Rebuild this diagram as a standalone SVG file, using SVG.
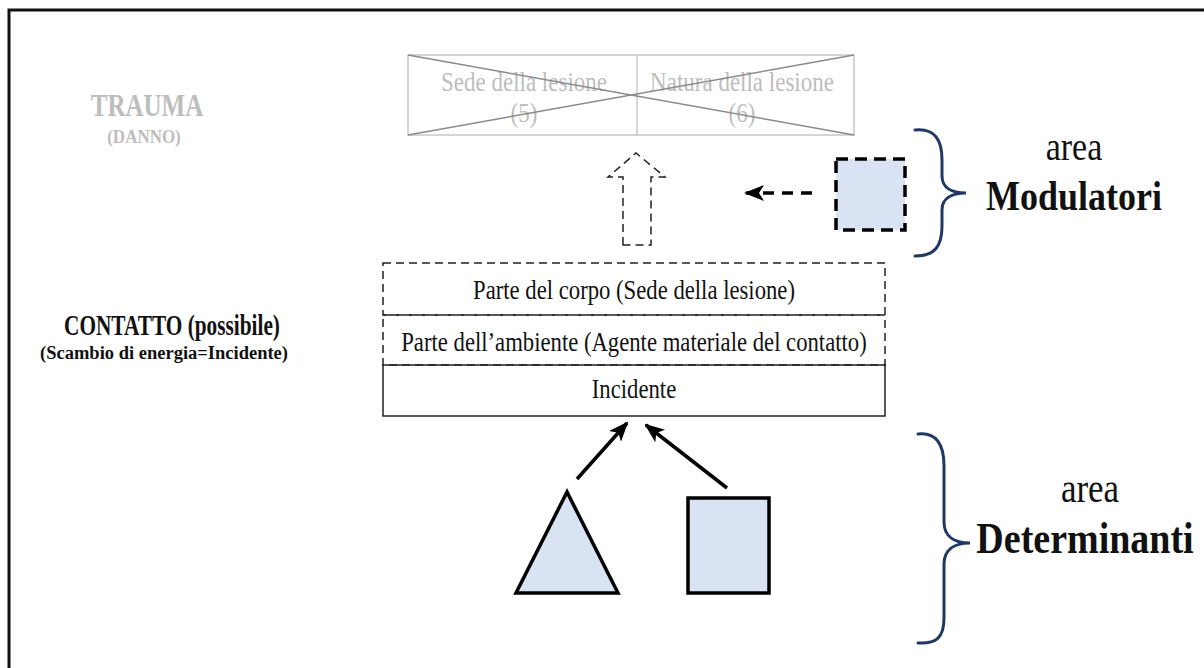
<svg xmlns="http://www.w3.org/2000/svg" width="1204" height="668" viewBox="0 0 1204 668">
<style>
.serif{font-family:"Liberation Serif","Times New Roman",serif;text-anchor:middle;}
.gray{fill:#bdbdbd;}
.ink{fill:#111;}
.b{font-weight:bold;}
.lbl{font-size:22.7px;}
.brace{fill:none;stroke:#1f3864;stroke-width:3;stroke-linecap:round;}
.shape{fill:#dae3f3;stroke:#000;stroke-width:3.5;}
.dash{fill:none;stroke:#222;stroke-width:1.5;stroke-dasharray:8,5;}
</style>
<defs>
<marker id="barb" viewBox="0 0 20 16" refX="18" refY="8" markerWidth="20" markerHeight="16" markerUnits="userSpaceOnUse" orient="auto">
<path d="M0,0 L20,8 L0,16 L5,8 Z" fill="#000"/>
</marker>
</defs>
<rect width="1204" height="668" fill="#fff"/>
<path d="M9,668 L9,10 L1204,10" fill="none" stroke="#111" stroke-width="3"/>

<g id="trauma-label">
<text transform="translate(147,116) scale(1,1.27)" class="serif gray b" font-size="25">TRAUMA</text>
<text transform="translate(144,143) scale(1,1.15)" class="serif gray b" font-size="17">(DANNO)</text>
</g>

<g id="trauma-box">
<rect x="408" y="55" width="446" height="80" fill="none" stroke="#c8c8c8" stroke-width="1.5"/>
<line x1="637" y1="55" x2="637" y2="135" stroke="#c8c8c8" stroke-width="1.5"/>
<text transform="translate(524,91) scale(1,1.18)" class="serif gray" font-size="23">Sede della lesione</text>
<text transform="translate(524,122) scale(1,1.18)" class="serif gray" font-size="23">(5)</text>
<text transform="translate(742,91) scale(1,1.18)" class="serif gray" font-size="23">Natura della lesione</text>
<text transform="translate(742,122) scale(1,1.18)" class="serif gray" font-size="23">(6)</text>
<line x1="408" y1="55" x2="854" y2="135" stroke="#8a8a8a" stroke-width="1.5"/>
<line x1="408" y1="135" x2="854" y2="55" stroke="#8a8a8a" stroke-width="1.5"/>
</g>

<g id="up-arrow">
<path d="M623,245 L623,177 L608,177 L636,153 L665,177 L651,177 L651,245 Z" class="dash"/>
</g>

<g id="modulator">
<rect x="836" y="159" width="69" height="71" fill="#dae3f3" stroke="#000" stroke-width="3.5" stroke-dasharray="12,7"/>
</g>

<g id="contatto-label">
<text transform="translate(172,335) scale(1,1.42)" class="serif ink b" font-size="21.3">CONTATTO (possibile)</text>
<text transform="translate(164,359)" class="serif ink b" font-size="18.5">(Scambio di energia=Incidente)</text>
</g>

<g id="stack">
<rect x="383" y="263" width="502" height="52" class="dash"/>
<rect x="383" y="315" width="502" height="50" class="dash"/>
<rect x="383" y="365" width="502" height="51" fill="none" stroke="#222" stroke-width="1.5"/>
<text transform="translate(634,299) scale(1,1.18)" class="serif ink lbl">Parte del corpo (Sede della lesione)</text>
<text transform="translate(634,351) scale(1,1.18)" class="serif ink lbl">Parte dell’ambiente (Agente materiale del contatto)</text>
<text transform="translate(634,398) scale(1,1.18)" class="serif ink lbl">Incidente</text>
</g>

<g id="triangle">
<polygon points="567,492 516,593 618,593" class="shape"/>
</g>
<g id="square">
<rect x="688" y="498" width="81" height="95" class="shape"/>
</g>

<g id="brace-modulatori">
<path d="M915,130 C935,128 942,140 942,160 L942,176 C942,188 952,193 966,193 C952,193 942,198 942,210 L942,226 C942,246 935,256 915,256" class="brace"/>
<text transform="translate(1074,160) scale(1,1.18)" class="serif ink" font-size="34">area</text>
<text transform="translate(1074,210) scale(1,1.18)" class="serif ink b" font-size="36">Modulatori</text>
</g>

<g id="brace-determinanti">
<path d="M918,434 C936,432 944,444 944,466 L944,522 C944,536 954,543 970,543 C954,543 944,550 944,564 L944,618 C944,638 936,644 918,643" class="brace"/>
<text transform="translate(1090,502) scale(1,1.18)" class="serif ink" font-size="35">area</text>
<text transform="translate(1085,553) scale(1,1.18)" class="serif ink b" font-size="38">Determinanti</text>
</g>

<g id="connectors">
<line x1="577" y1="479" x2="627" y2="423" stroke="#000" stroke-width="3.5" marker-end="url(#barb)"/>
<line x1="727" y1="488" x2="646" y2="425" stroke="#000" stroke-width="3.5" marker-end="url(#barb)"/>
<line x1="812" y1="193" x2="746" y2="193" stroke="#000" stroke-width="3.5" stroke-dasharray="11,8" marker-end="url(#barb)"/>
</g>
</svg>
